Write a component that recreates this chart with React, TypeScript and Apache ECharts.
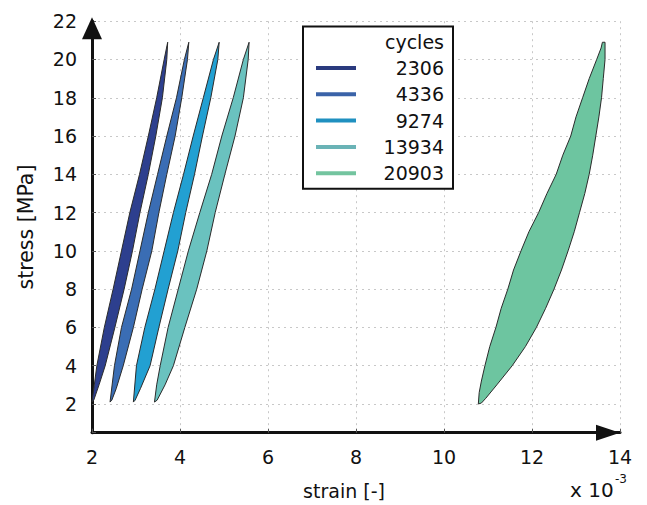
import React, { useEffect, useRef } from "react";
import * as echarts from "echarts";

const cycleNames = ["2306", "4336", "9274", "13934", "20903"];
const fillColors = ["#2d3f8e", "#3a6db4", "#22a0d2", "#6ac2bf", "#6dc5a0"];
const legendColors = ["#2a3a7e", "#3a63a8", "#1f90c0", "#6ab3b6", "#73c49f"];

// [strain x1e-3, stress MPa] outlines of each hysteresis loop
const loop2306 = [
  [2.0, 2.1], [2.11, 4], [2.28, 6], [2.48, 8], [2.67, 10], [2.86, 12], [3.08, 14], [3.28, 16], [3.47, 18], [3.64, 20], [3.72, 20.9],
  [3.7, 20], [3.6, 18], [3.45, 16], [3.28, 14], [3.09, 12], [2.92, 10], [2.73, 8], [2.52, 6], [2.3, 4], [2.16, 3], [2.04, 2.2],
];
const loop4336 = [
  [2.41, 2.1], [2.51, 4], [2.67, 6], [2.9, 8], [3.09, 10], [3.28, 12], [3.49, 14], [3.7, 16], [3.92, 18], [4.1, 20], [4.2, 20.9],
  [4.17, 20], [4.04, 18], [3.89, 16], [3.7, 14], [3.52, 12], [3.36, 10], [3.14, 8], [2.94, 6], [2.71, 4], [2.55, 2.8], [2.45, 2.2],
];
const loop9274 = [
  [2.94, 2.1], [3.01, 4], [3.2, 6], [3.43, 8], [3.64, 10], [3.85, 12], [4.08, 14], [4.3, 16], [4.53, 18], [4.76, 20], [4.89, 20.9],
  [4.86, 20], [4.7, 18], [4.51, 16], [4.33, 14], [4.13, 12], [3.95, 10], [3.73, 8], [3.52, 6], [3.32, 4], [3.1, 2.8], [2.98, 2.2],
];
const loop13934 = [
  [3.42, 2.1], [3.47, 3], [3.55, 4], [3.73, 6], [3.96, 8], [4.19, 10], [4.45, 12], [4.72, 14], [4.95, 16], [5.21, 18], [5.44, 20], [5.57, 20.9],
  [5.55, 20], [5.44, 18], [5.25, 16], [5.02, 14], [4.8, 12], [4.61, 10], [4.38, 8], [4.11, 6], [3.85, 4], [3.66, 3], [3.48, 2.2],
];
const loop20903 = [
  [10.78, 2.0], [10.8, 2.6], [10.85, 3.2], [10.93, 4], [11.04, 5], [11.18, 6], [11.3, 7], [11.45, 8], [11.58, 9], [11.75, 10], [11.93, 11], [12.15, 12],
  [12.34, 13], [12.55, 14], [12.7, 15], [12.88, 16], [13.0, 17], [13.15, 18], [13.3, 19], [13.47, 20], [13.57, 20.6], [13.6, 20.9], [13.66, 20.9],
  [13.66, 20], [13.62, 19], [13.58, 18], [13.52, 17], [13.45, 16], [13.38, 15], [13.3, 14], [13.2, 13], [13.08, 12], [12.96, 11], [12.82, 10],
  [12.67, 9], [12.5, 8], [12.31, 7], [12.1, 6], [11.85, 5], [11.55, 4], [11.2, 3], [10.95, 2.3], [10.85, 2.05],
];
const loops = [loop2306, loop4336, loop9274, loop13934, loop20903];

const xTicksInterval = 2;
const font = "DejaVu Sans, Liberation Sans, Arial, sans-serif";

export default function App() {
  const ref = useRef<HTMLDivElement>(null);
  useEffect(() => {
    if (!ref.current) return;
    const chart = echarts.init(ref.current, null, { renderer: "svg" });
    const series = loops.map((pts, i) => ({
      type: "custom",
      name: cycleNames[i],
      data: pts,
      encode: { x: 0, y: 1 },
      clip: false,
      silent: true,
      itemStyle: { color: fillColors[i] },
      renderItem: (params: any, api: any) => {
        if (params.dataIndex !== 0) return null;
        const points = pts.map((p) => api.coord(p));
        return {
          type: "polygon",
          shape: { points },
          style: { fill: fillColors[i], stroke: "#2b2b2b", lineWidth: 1 },
        };
      },
    }));
    chart.setOption({
      animation: false,
      backgroundColor: "#fff",
      grid: { left: 92, right: 27, top: 21.2, bottom: 72.3 },
      xAxis: {
        type: "value",
        min: 2,
        max: 14,
        interval: xTicksInterval,
        axisLine: {
          lineStyle: { color: "#111", width: 3 },
          symbol: ["none", "triangle"],
          symbolSize: [16, 24],
          symbolOffset: [0, -12],
        },
        axisTick: { show: true, inside: true, length: 4, lineStyle: { color: "#555" } },
        axisLabel: { color: "#111", fontSize: 19, fontFamily: font, margin: 15 },
        splitLine: { show: true, lineStyle: { color: "#c8c8c8", type: [2, 4], width: 1 } },
      },
      yAxis: {
        type: "value",
        min: 0.5,
        max: 22,
        splitNumber: 11,
        minInterval: 2,
        maxInterval: 2,
        axisLine: {
          lineStyle: { color: "#111", width: 3 },
          symbol: ["none", "triangle"],
          symbolSize: [20, 22],
          symbolOffset: [0, -7],
        },
        axisTick: { show: true, inside: true, length: 4, lineStyle: { color: "#555" } },
        axisLabel: {
          color: "#111",
          fontSize: 19,
          fontFamily: font,
          margin: 15,
          formatter: (v: number) => (Math.abs(v % 2) < 1e-9 ? String(v) : ""),
        },
        splitLine: { show: true, lineStyle: { color: "#c8c8c8", type: [2, 4], width: 1 } },
      },
      legend: {
        orient: "vertical",
        left: 303,
        top: 26.5,
        selectedMode: false,
        icon: "rect",
        itemWidth: 40,
        itemHeight: 4,
        itemGap: 7.3,
        itemTextGap: 5,
        padding: [32, 9, 6, 13],
        borderColor: "#111",
        borderWidth: 2,
        backgroundColor: "#fff",
        data: cycleNames.map((n, i) => ({ name: n, itemStyle: { color: legendColors[i] } })),
        formatter: "{v|{name}}",
        textStyle: {
          fontFamily: font,
          fontSize: 19,
          color: "#111",
          rich: { v: { width: 83, align: "right", fontSize: 19, lineHeight: 20, fontFamily: font, color: "#111" } },
        },
      },
      graphic: [
        {
          type: "text",
          z: 100,
          x: 444,
          y: 42,
          style: { text: "cycles", fontSize: 19, fontFamily: font, fill: "#111", align: "right", verticalAlign: "middle" },
        },
        {
          type: "text",
          x: 26,
          y: 227,
          rotation: Math.PI / 2,
          style: { text: "stress [MPa]", fontSize: 20.5, fontFamily: font, fill: "#111", align: "center", verticalAlign: "middle" },
        },
        {
          type: "text",
          x: 344,
          y: 491,
          style: { text: "strain [-]", fontSize: 19, fontFamily: font, fill: "#111", align: "center", verticalAlign: "middle" },
        },
        {
          type: "text",
          x: 570,
          y: 490,
          style: { text: "x 10", fontSize: 20, fontFamily: font, fill: "#111", align: "left", verticalAlign: "middle" },
        },
        {
          type: "text",
          x: 615,
          y: 479,
          style: { text: "-3", fontSize: 12, fontFamily: font, fill: "#111", align: "left", verticalAlign: "middle" },
        },
      ],
      series,
    });
    return () => chart.dispose();
  }, []);
  return <div ref={ref} style={{ position: "absolute", left: 0, top: 0, width: 647, height: 505 }} />;
}
